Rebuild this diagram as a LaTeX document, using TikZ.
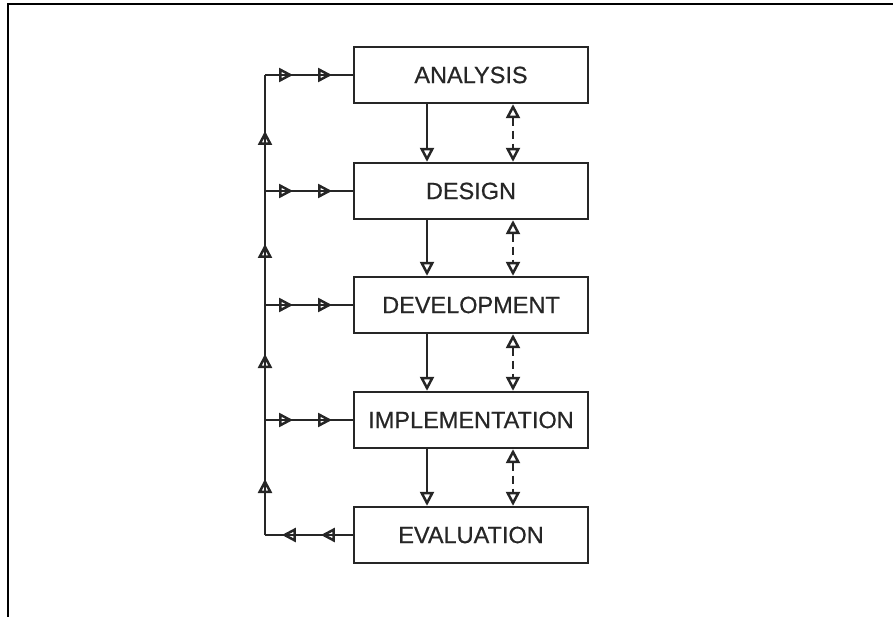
\documentclass[tikz,border=0pt]{standalone}
\usepackage{fontspec}
\setmainfont{Liberation Sans}[FakeBold=0.6]
\usetikzlibrary{arrows.meta,decorations.markings}
\definecolor{ink}{gray}{0.15}
\tikzset{
  stagebox/.style={draw=ink, line width=2.4pt, minimum width=234pt, minimum height=56pt,
    inner sep=0pt, font=\fontsize{23.5}{25}\selectfont, text=ink},
  tri/.tip={Triangle[open, length=14pt, width=14pt, line width=2.5pt]},
  flow/.style={draw=ink, line width=2.3pt},
  solidarrow/.style={flow, -{tri}},
  dasharrow/.style={flow, {tri}-{tri}, dash pattern=on 8pt off 5pt},
  markat/.style={postaction={decorate, decoration={markings,
     mark=at position #1 with {\arrow{tri}}}}},
}
\begin{document}
\begin{tikzpicture}[x=1pt,y=-1pt]
\useasboundingbox (0,0) rectangle (893,617);
% frame
\draw[black, line width=2.6pt] (8,617) -- (8,4) -- (893,4);
% boxes
\node[stagebox] (ana) at (471,75)  {ANALYSIS};
\node[stagebox] (des) at (471,191) {DESIGN};
\node[stagebox] (dev) at (471,305) {DEVELOPMENT};
\node[stagebox] (imp) at (471,420) {IMPLEMENTATION};
\node[stagebox] (eva) at (471,535) {EVALUATION};
% left loop coordinates
\coordinate (c1) at (265,75);
\coordinate (c2) at (265,191);
\coordinate (c3) at (265,305);
\coordinate (c4) at (265,420);
\coordinate (c5) at (265,535);
% evaluation back to loop
\draw[flow, markat=32pt, markat=71pt] (eva.west) -- (c5);
% vertical loop
\draw[flow, markat=56pt] (c5) -- (c4);
\draw[flow, markat=66pt] (c4) -- (c3);
\draw[flow, markat=61pt] (c3) -- (c2);
\draw[flow, markat=60pt] (c2) -- (c1);
% branches into boxes
\foreach \c/\b in {c1/ana, c2/des, c3/dev, c4/imp}{
  \draw[flow, markat=28pt, markat=67pt] (\c) -- (\b.west);
}
% down arrows and dashed double arrows
\foreach \a/\b in {ana/des, des/dev, dev/imp, imp/eva}{
  \draw[solidarrow] ([xshift=-44pt]\a.south) -- ([xshift=-44pt]\b.north);
  \draw[dasharrow] ([xshift=42pt]\a.south) -- ([xshift=42pt]\b.north);
}
\end{tikzpicture}
\end{document}
